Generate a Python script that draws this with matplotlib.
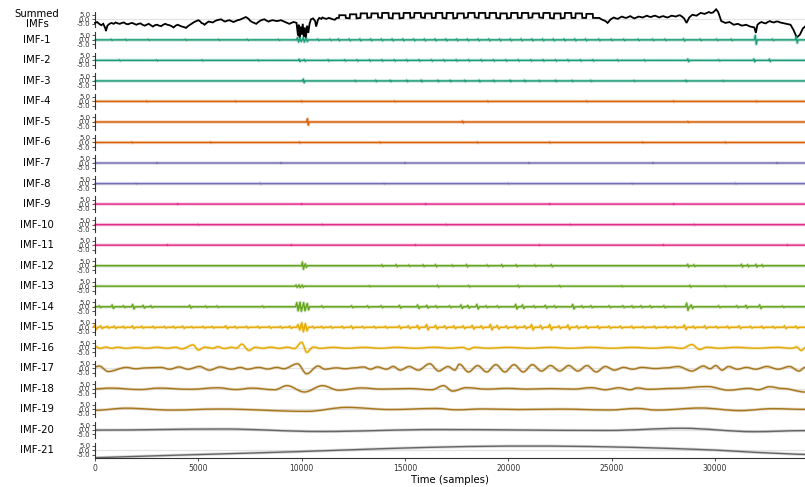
import numpy as np
import matplotlib
matplotlib.use("Agg")
import matplotlib.pyplot as plt
from matplotlib.path import Path
from matplotlib.patches import PathPatch

# ---------------------------------------------------------------- data
N_SAMPLES = 34350
x_ticks = [0, 5000, 10000, 15000, 20000, 25000, 30000]
y_ticks = [-5.0, 0.0, 5.0]
Y_LIM = 8.6
imf_names = ["IMF-%d" % i for i in range(1, 22)]

# summed signal: slow part before the pulse train
summed_pre_pos = [0, 100, 200, 300, 400, 500, 530, 600, 700, 800, 900, 1000, 1100, 1200,
                  1300, 1400, 1500, 1600, 1700, 1800, 1900, 2000, 2100, 2200, 2300, 2400,
                  2500, 2600, 2700, 2800, 2900, 3000, 3100, 3200, 3300, 3400, 3500, 3600,
                  3700, 3800, 3900, 4000, 4100, 4200, 4300, 4400, 4500, 4600, 4700, 4800,
                  4900, 5000, 5100, 5150, 5250, 5300, 5400, 5500, 5600, 5700, 5800, 5900,
                  6000, 6100, 6200, 6300, 6400, 6500, 6600, 6700, 6800, 6900, 7000, 7100,
                  7200, 7300, 7400, 7450, 7500, 7600, 7700, 7800, 7900, 8000, 8100, 8200,
                  8300, 8400, 8500, 8600, 8700, 8800, 8900, 9000, 9100, 9200, 9300, 9400,
                  9500, 9600, 9700, 9750, 9820, 9860, 9900, 9950, 10000, 10050, 10100,
                  10150, 10200, 10260, 10320, 10380, 10450, 10550, 10650, 10700, 10780,
                  10850, 10950, 11000, 11100, 11200, 11300, 11400, 11500, 11600, 11700]
summed_pre_val = [-4, -3, -5, -6.5, -5, -10, -13, -7, -5, -4, -5, -3.5, -4.5, -5,
                  -4, -3.5, -5, -5.5, -4.5, -4, -5, -6, -5, -4.5, -6, -7,
                  -6, -5, -6.5, -8, -6.5, -6, -7, -7.5, -6, -5, -6, -6.5,
                  -7.5, -9, -7, -6, -7, -8, -8.5, -9.5, -7.5, -6, -4.5, -3,
                  -2, -1, -2.5, -4, -5, -6, -4, -2.5, -3, -3.5, -2, -1,
                  -0.5, 0, -1.5, -2.5, -1.5, -1, -2, -3, -2, -1, -0.5, 0.5,
                  1.5, 2.5, 1, 0, -1.5, -3, -4, -5, -3, -1.5, -0.5, 0,
                  -1.5, -2.5, -1.5, -1, -1.5, -2, -1.5, -1, -2, -3, -4, -5,
                  -4, -3, -3.5, -4, -18, -6, -20, -8, -17, -5, -19,
                  -9, -21, -7, -15, -5, 0, 1, -2, -8, -1,
                  1.5, 0.5, 2, 1, 0.5, 1.5, 1, 0, -0.5, 1.5]

# summed signal: square pulse train
pulse_rise = [11800, 12320, 12840, 13360, 13880, 14400, 14920, 15440, 15960, 16480,
              17000, 17520, 18040, 18560, 19080, 19600, 20120, 20640, 21160, 21680,
              22200, 22720, 23240, 23760]
pulse_fall = [12120, 12640, 13160, 13680, 14200, 14720, 15240, 15760, 16280, 16800,
              17320, 17840, 18360, 18880, 19400, 19920, 20440, 20960, 21480, 22000,
              22520, 23040, 23560, 24080]
pulse_high = [4.5, 5.5, 6.5, 6.5, 7, 6.5, 7, 7, 6.5, 7, 7, 6.5, 7, 7, 7, 6.5, 7, 7,
              6.5, 7, 6.5, 7, 6.5, 6]
pulse_low = [1.5, 1.0, 1.5, 2.0, 1.5, 1.0, 1.5, 2.0, 1.5, 1.5, 1.0, 1.5, 2.0, 1.5,
             1.5, 1.0, 1.5, 1.5, 2.0, 1.5, 1.0, 1.5, 1.5, 1.5]

# summed signal: after the pulse train
summed_post_pos = [24400, 24500, 24600, 24700, 24800, 24950, 25100, 25200, 25300, 25400,
                   25500, 25600, 25700, 25800, 25900, 26000, 26100, 26200, 26300, 26400,
                   26500, 26600, 26700, 26800, 26900, 27000, 27100, 27200, 27300, 27400,
                   27500, 27600, 27700, 27800, 27900, 28000, 28100, 28200, 28300, 28400,
                   28500, 28620, 28750, 28900, 29000, 29100, 29200, 29300, 29400, 29500,
                   29600, 29700, 29800, 29900, 30050, 30150, 30300, 30400, 30500, 30600,
                   30700, 30800, 30900, 31000, 31100, 31200, 31300, 31400, 31500, 31600,
                   31700, 31800, 31900, 31970, 32050, 32150, 32250, 32350, 32450, 32550,
                   32650, 32750, 32850, 32950, 33050, 33150, 33250, 33350, 33450, 33550,
                   33650, 33800, 33950, 34100, 34250, 34350]
summed_post_val = [1.5, 0, -1, -2, -4, 0, 2, 1, 0.5, 2, 3, 2, 1.5, 2.5, 3.5, 2, 1,
                   2, 3, 2.5, 2, 3, 4, 3, 2.5, 3.5, 4, 3, 2, 3, 3.5, 2.5, 2, 3,
                   4, 3.5, 3, 4, 4.5, 3, 1, -4, 2, 5, 4.5, 4, 5.5, 7, 6.5, 6,
                   7, 8, 7, 7.5, 11, 8, -2, -3, -4, -3.5, -3, -4.5, -6, -5.5, -5,
                   -6, -7, -6.5, -6, -7, -8, -8.5, -9, -15, -6, -4, -3, -4, -4.5, -3,
                   -2, -3, -3.5, -2.5, -2.5, -3.5, -4, -4.5, -5, -5.5, -6, -12, -20,
                   -17, -10, -8]

# high-frequency IMFs: isolated transients (position in samples, amplitude)
imf1_pos = [800, 1500, 2600, 4400, 6000, 7400, 8900, 9820, 9950, 10100, 10250, 10800,
            11400, 11800, 12320, 12840, 13360, 13880, 14400, 14920, 15440, 15960, 16480,
            17000, 17520, 18040, 18560, 19080, 19600, 20120, 20640, 21160, 21680, 22200,
            22720, 23240, 23760, 24400, 25000, 25600, 26300, 27000, 27600, 28500, 29300,
            30100, 30800, 31970, 32800, 33950]
imf1_amp = [0.6, 0.6, 0.6, 0.6, 0.6, 0.6, 0.6, 2.5, 2.0, 2.5, 2.0, 0.8,
            0.8, 1.0, 1.0, 1.0, 1.0, 1.0, 1.0, 1.0, 1.0, 1.0, 1.0,
            1.0, 1.0, 1.0, 1.0, 1.0, 1.0, 1.0, 1.0, 1.0, 1.0, 1.0,
            1.0, 1.0, 1.0, 0.9, 0.8, 0.8, 0.8, 0.8, 0.8, 1.2, 0.8,
            0.8, 0.8, 5.0, 0.8, 3.5]
imf2_pos = [1200, 3000, 5200, 7900, 9900, 10150, 11300, 12100, 12700, 13300, 13900,
            14500, 15100, 15700, 16300, 16900, 17500, 18100, 18700, 19300, 19900, 20500,
            21100, 21700, 22300, 22900, 23500, 24100, 25300, 26600, 28700, 30200, 31900,
            32650]
imf2_amp = [0.6, 0.6, 0.6, 0.6, 1.3, 1.0, 0.8, 0.8, 0.8, 0.8, 0.8,
            0.8, 0.8, 0.8, 0.8, 0.8, 0.8, 0.8, 0.8, 0.8, 0.8, 0.8,
            0.8, 0.8, 0.8, 0.8, 0.8, 0.8, 0.7, 0.7, 1.5, 0.7, 1.5,
            1.4]
imf3_pos = [10100, 12600, 13600, 14300, 15100, 15800, 16600, 17200, 17900, 18600, 19300,
            20100, 20800, 21500, 22300, 23100, 24000, 26100, 28600, 30400]
imf3_amp = [2.0, 0.7, 0.8, 0.8, 0.8, 0.9, 0.8, 0.8, 0.8, 0.9, 0.8,
            0.8, 0.8, 0.7, 0.8, 0.7, 0.7, 0.6, 0.8, 0.5]
imf4_pos = [2500, 6800, 10000, 14500, 19000, 23800, 28000, 32000]
imf4_amp = [0.5, 0.5, 0.6, 0.5, 0.5, 0.5, 0.5, 0.5]
imf5_pos = [10300, 17800, 28700]
imf5_amp = [3.5, 1.0, 0.6]
imf6_pos = [1800, 5600, 9900, 13800, 18500, 22000, 26500, 30500]
imf6_amp = [0.5, 0.5, 0.6, 0.5, 0.5, 0.5, 0.5, 0.5]
imf7_pos = [3000, 9000, 15000, 21000, 27000, 33000]
imf7_amp = [0.4, 0.4, 0.4, 0.4, 0.4, 0.4]
imf8_pos = [2000, 8000, 14000, 20000, 26000, 31000]
imf8_amp = [0.4, 0.5, 0.4, 0.4, 0.4, 0.4]
imf9_pos = [4000, 10000, 16000, 22000, 28000]
imf9_amp = [0.4, 0.4, 0.4, 0.4, 0.4]
imf10_pos = [5000, 11000, 17000, 23000, 29000]
imf10_amp = [0.4, 0.4, 0.4, 0.4, 0.4]
imf11_pos = [3500, 9500, 15500, 21500, 27500, 33500]
imf11_amp = [0.4, 0.4, 0.4, 0.4, 0.4, 0.4]
imf12_pos = [10060, 10200, 13900, 14600, 15200, 15900, 16500, 17300, 18000, 19000,
             19700, 20400, 21300, 22100, 28700, 29000, 31300, 31600, 32000, 32300]
imf12_amp = [4.0, 2.0, 1.0, 1.2, 0.8, 1.0, 1.2, 0.8, 1.3, 0.8,
             1.2, 1.0, 0.8, 1.2, 1.5, 1.0, 1.5, 1.2, 1.5, 1.0]
imf13_pos = [9750, 9900, 10050, 13300, 16600, 18100, 20500, 22500, 25500, 28800, 30500]
imf13_amp = [1.3, 1.5, 1.2, 0.6, 1.0, 0.8, 1.0, 0.8, 0.6, 1.0, 0.6]
imf14_pos = [243, 861, 1412, 1854, 2361, 2736, 4611, 5383, 5935, 8140, 9795, 9950,
             10126, 10300, 11009, 12442, 13215, 13876, 14759, 15641, 16082, 16524,
             17185, 17737, 18068, 18509, 18950, 19502, 20384, 20715, 21266, 21818,
             22259, 23142, 23583, 24024, 24906, 25568, 26009, 26451, 26892, 27554,
             28657, 28878, 30201, 31083, 31524, 32186, 33289]
imf14_amp = [1.0, 2.0, 1.0, 2.5, 1.5, 1.0, 1.5, 0.8, 0.8, 0.8, 4.5, 5.0,
             4.5, 3.5, 1.0, 1.0, 1.0, 1.0, 1.5, 2.0, 1.5, 1.0,
             1.0, 2.0, 1.5, 2.5, 1.0, 1.0, 2.5, 2.0, 1.0, 1.5,
             1.0, 2.5, 1.0, 1.0, 1.0, 1.0, 1.0, 1.0, 1.0, 1.0,
             4.0, 2.0, 1.0, 1.0, 1.5, 2.0, 0.8]
imf15_pos = [23, 310, 640, 970, 1410, 1850, 2300, 2850, 3400, 3840, 4280, 4720, 5270,
             5710, 6370, 6820, 7370, 7920, 8470, 9020, 9460, 9860, 10040, 10220, 10570,
             11010, 11450, 12000, 12440, 12990, 13550, 14100, 14760, 15200, 15640, 16080,
             16520, 16960, 17400, 17850, 18290, 18730, 19170, 19500, 19940, 20380, 20830,
             21160, 21600, 22040, 22480, 22920, 23360, 23800, 24360, 24910, 25460, 26010,
             26560, 27110, 27660, 28100, 28550, 28990, 29540, 30090, 30640, 31200, 31750,
             32300, 32850, 33400, 33950]
imf15_amp = [2.5, 1.5, 1.0, 1.2, 1.0, 1.5, 1.0, 1.0, 1.0, 1.0, 1.2, 0.8, 1.0,
             1.0, 1.5, 1.0, 1.0, 1.0, 1.0, 1.0, 1.2, 3.0, 5.0, 4.0, 1.0,
             1.0, 1.0, 1.0, 1.5, 1.0, 1.0, 1.0, 1.5, 1.5, 2.0, 3.0,
             2.0, 1.5, 1.5, 1.5, 2.0, 1.5, 3.0, 2.0, 1.5, 1.5, 1.5,
             3.0, 2.0, 3.0, 1.5, 2.5, 1.5, 1.5, 1.5, 1.2, 1.2, 1.2,
             1.0, 1.2, 1.0, 1.0, 2.5, 1.2, 1.5, 1.0, 1.2, 1.5, 1.0,
             1.2, 1.0, 1.5, 1.2]

# slower IMFs: successive turning points (position in samples, value)
imf16_pos = [0, 250, 500, 800, 1100, 1500, 2000, 2500, 3000, 3500, 3900, 4200, 4750,
             5000, 5300, 5700, 5950, 6250, 6600, 6850, 7100, 7450, 7750, 8100, 8500,
             8900, 9300, 9650, 10000, 10250, 10550, 10900, 11500, 12200, 13000, 13800,
             14600, 15500, 16400, 17200, 17800, 18070, 18350, 19000, 20000, 21000,
             22000, 23000, 24000, 25000, 26000, 27000, 27800, 28400, 28880, 29250,
             29600, 30200, 31000, 32000, 33000, 33700, 33950, 34170, 34350]
imf16_val = [1.5, -0.6, 0.7, -0.5, 0.6, -0.6, 0.5, -0.5, 0.6, -0.5, 0.6, -1.2, 3.2,
             -2.5, 0.6, -0.5, 1.2, -0.8, 0.5, -0.4, 4.0, -3.0, 0.6, -0.5, 0.6,
             -0.6, 0.6, -0.8, 6.0, -5.0, 0.8, -0.6, 0.5, -0.5, 0.5, -0.5,
             0.5, -0.5, 0.6, -0.5, 0.5, -1.8, 0.5, -0.5, 0.5, -0.5,
             0.5, -0.5, 0.5, -0.5, 0.5, -0.5, 0.6, -0.6, 3.5, -1.8,
             0.6, -0.5, 0.5, -0.5, 0.5, -0.5, 0.8, -3.0, 0.0]
imf17_pos = [0, 200, 640, 1520, 1960, 2500, 3180, 3620, 4060, 4500, 5050, 5540, 6050,
             6600, 7040, 7370, 7920, 8360, 8800, 9130, 9795, 10240, 10790, 11120,
             11670, 12110, 12550, 12990, 13330, 13660, 14100, 14430, 14760, 15200,
             15640, 16190, 16630, 17080, 17410, 17630, 18070, 18510, 18950, 19390,
             19830, 20270, 20720, 21160, 21600, 22040, 22480, 22920, 23360, 23800,
             24250, 24690, 25130, 25570, 26010, 26450, 27110, 27660, 28210, 28880,
             29430, 29760, 30030, 30340, 30650, 31080, 31520, 31960, 32500, 33050,
             33600, 34060, 34350]
imf17_val = [1.5, 2.5, -3.5, 1.0, -0.5, 0.5, 1.0, -1.0, 1.5, -1.0, 2.0, -2.0, 1.5,
             -1.0, 1.0, -1.0, 1.0, -0.8, 1.0, -0.5, 5.0, -6.0, 2.5, -1.0,
             0.5, -0.5, 0.5, 1.5, -1.0, 1.5, -1.0, 2.0, -2.0, 2.0,
             -2.0, 5.0, -3.0, 2.0, -2.0, 4.5, -4.0, 3.0, -4.0, 4.0,
             -4.0, 4.0, -4.0, 4.0, -3.0, 3.0, -3.0, 3.0, -3.0, 3.0,
             -4.0, 2.0, -2.0, 1.0, -1.0, 1.0, -0.3, 0.5, 2.0, -3.0,
             2.5, -0.5, 3.0, -2.0, 2.0, -1.0, 1.0, -1.0, 2.0, -1.0,
             2.0, -3.0, 1.0]
imf18_pos = [0, 750, 2190, 3070, 4610, 5940, 6820, 7590, 8690, 9290, 10130, 11010,
             11780, 12880, 13880, 15200, 16300, 16860, 17300, 17960, 18950, 19940,
             20940, 22040, 23140, 24020, 24690, 25350, 25900, 26230, 26780, 27990,
             29650, 30640, 31640, 32080, 32630, 33290, 34350]
imf18_val = [0.0, 0.8, -0.8, 0.8, -0.5, 1.2, -0.8, 0.8, -1.0, 3.5, -3.5, 3.5,
             -1.5, 1.0, -0.3, 0.3, -1.0, 3.5, -2.5, 1.3, -0.3, 0.5,
             -0.3, 0.3, -0.3, 1.3, -1.0, 1.2, -1.0, 1.0, -0.5, 0.5,
             2.5, -1.5, 0.5, -1.0, 2.3, 0.3, -3.5]
imf19_pos = [0, 1500, 3700, 6000, 10250, 12180, 14300, 16500, 17500, 18800, 20500,
             22500, 24900, 26200, 27200, 29300, 31200, 32800, 34350]
imf19_val = [-1.0, 1.3, -0.8, 0.4, -2.2, 2.2, -0.2, 1.0, -0.5, 0.5, -0.2,
             0.3, -0.7, 1.0, -0.8, 1.5, -1.4, 0.8, 0.0]
imf20_pos = [0, 6200, 10900, 16500, 24800, 28400, 31900, 34350]
imf20_val = [-0.2, 1.0, -1.8, 0.4, -0.6, 1.8, -2.0, -0.8]
imf21_pos = [0, 2000, 4000, 6000, 8000, 10000, 12000, 14000, 16000, 18000, 20000,
             22000, 24000, 26000, 28000, 30000, 32000, 34000, 34350]
imf21_val = [-8.0, -6.6, -5.2, -3.9, -2.6, -1.2, 0.4, 2.0, 3.3, 4.3, 4.8,
             4.8, 4.3, 3.4, 2.1, 0.4, -2.2, -4.2, -4.4]

spike_sets = {
    1: (imf1_pos, imf1_amp, 70), 2: (imf2_pos, imf2_amp, 60), 3: (imf3_pos, imf3_amp, 60),
    4: (imf4_pos, imf4_amp, 40), 5: (imf5_pos, imf5_amp, 60), 6: (imf6_pos, imf6_amp, 40),
    7: (imf7_pos, imf7_amp, 40), 8: (imf8_pos, imf8_amp, 40), 9: (imf9_pos, imf9_amp, 40),
    10: (imf10_pos, imf10_amp, 40), 11: (imf11_pos, imf11_amp, 40),
    12: (imf12_pos, imf12_amp, 70), 13: (imf13_pos, imf13_amp, 70),
    14: (imf14_pos, imf14_amp, 90), 15: (imf15_pos, imf15_amp, 110),
}
wave_sets = {
    16: (imf16_pos, imf16_val), 17: (imf17_pos, imf17_val), 18: (imf18_pos, imf18_val),
    19: (imf19_pos, imf19_val), 20: (imf20_pos, imf20_val),
}
trend_sets = {21: (imf21_pos, imf21_val)}


# ---------------------------------------------------------------- helpers
def spike_trace(pos, amp, width, end):
    xs, ys = [0.0], [0.0]
    for p, a in sorted(zip(pos, amp)):
        xs += [p - width, p - 0.35 * width, p + 0.35 * width, p + width]
        ys += [0.0, a, -a, 0.0]
    xs.append(end)
    ys.append(0.0)
    return xs, ys


def wave_path(pos, val):
    verts = [(pos[0], val[0])]
    codes = [Path.MOVETO]
    for i in range(len(pos) - 1):
        x0, y0, x1, y1 = pos[i], val[i], pos[i + 1], val[i + 1]
        d = 0.36 * (x1 - x0)
        verts += [(x0 + d, y0), (x1 - d, y1), (x1, y1)]
        codes += [Path.CURVE4] * 3
    return Path(verts, codes)


def summed_trace():
    xs = list(summed_pre_pos)
    ys = list(summed_pre_val)
    for r, f, hi, lo in zip(pulse_rise, pulse_fall, pulse_high, pulse_low):
        xs += [r, r + 15, f, f + 15]
        ys += [lo, hi, hi, lo]
    xs += summed_post_pos
    ys += summed_post_val
    return xs, ys


# ---------------------------------------------------------------- figure
W, H = 805, 487
fig = plt.figure(figsize=(W / 100, H / 100), dpi=100)
colors = plt.cm.Dark2(np.linspace(0, 1, 22))

left_px, right_px = 95, 805
ax_h = 15.6
n_rows = 22
axes = []
for k in range(n_rows):
    yc = 19.3 + 20.53 * k
    ax = fig.add_axes([left_px / W, 1 - (yc + ax_h / 2) / H,
                       (right_px - left_px) / W, ax_h / H])
    ax.set_xlim(0, N_SAMPLES)
    ax.set_ylim(-Y_LIM, Y_LIM)
    for s in ("top", "right"):
        ax.spines[s].set_visible(False)
    ax.spines["left"].set_color("#333333")
    ax.spines["left"].set_linewidth(0.8)
    ax.axhline(0, color="#e4e4e4", lw=0.9, zorder=0)
    ax.set_yticks(y_ticks)
    ax.set_yticklabels(["%.1f" % v for v in y_ticks])
    ax.tick_params(axis="y", labelsize=5, length=2.5, width=0.6, pad=1,
                   colors="#333333")
    ax.set_xticks(x_ticks)
    ax.patch.set_visible(False)
    if k < n_rows - 1:
        ax.spines["bottom"].set_visible(False)
        ax.tick_params(axis="x", bottom=False, labelbottom=False)
    else:
        ax.spines["bottom"].set_color("#333333")
        ax.spines["bottom"].set_linewidth(0.8)
        ax.tick_params(axis="x", labelsize=5.5, length=2.5, width=0.6, pad=2,
                       colors="#333333")
        ax.set_xlabel("Time (samples)", fontsize=7.3, labelpad=1)
    label = "Summed\nIMFs" if k == 0 else imf_names[k - 1]
    ax.set_ylabel(label, rotation=0, fontsize=7.3, ha="center", va="center",
                  linespacing=1.0)
    ax.yaxis.set_label_coords(-0.0817, 0.5)
    axes.append(ax)

# summed IMFs
sx, sy = summed_trace()
axes[0].plot(sx, sy, color="k", lw=1.3, clip_on=False, zorder=5,
             solid_joinstyle="miter")

for i in range(1, 22):
    ax = axes[i]
    col = colors[i - 1]
    if i in spike_sets:
        pos, amp, wdt = spike_sets[i]
        xs, ys = spike_trace(pos, amp, wdt, N_SAMPLES)
        ax.plot(xs, ys, color=col, lw=2.4, alpha=0.25, solid_joinstyle="round")
        ax.plot(xs, ys, color=col, lw=1.0, solid_joinstyle="round", clip_on=False)
    elif i in wave_sets:
        pos, val = wave_sets[i]
        path = wave_path(pos, val)
        ax.add_patch(PathPatch(path, fill=False, edgecolor=col, lw=2.2, alpha=0.25))
        ax.add_patch(PathPatch(path, fill=False, edgecolor=col, lw=1.0))
    else:
        pos, val = trend_sets[i]
        ax.plot(pos, val, color=col, lw=2.2, alpha=0.25)
        ax.plot(pos, val, color=col, lw=1.0)
    ax.set_xlim(0, N_SAMPLES)
    ax.set_ylim(-Y_LIM, Y_LIM)

fig.savefig("out.png", dpi=100)
